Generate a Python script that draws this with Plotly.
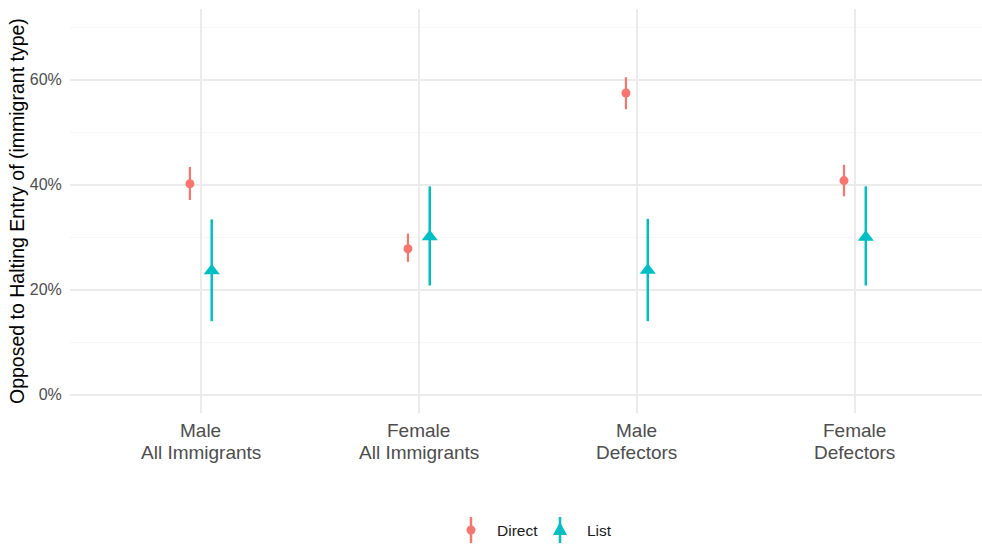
import plotly.graph_objects as go

categories = ["Male<br>All Immigrants", "Female<br>All Immigrants", "Male<br>Defectors", "Female<br>Defectors"]
direct_est = [40.2, 27.8, 57.5, 40.8]
direct_lo = [37.1, 25.3, 54.4, 37.8]
direct_hi = [43.4, 30.7, 60.5, 43.8]
list_est = [23.6, 30.1, 23.7, 30.0]
list_lo = [14.0, 20.8, 14.0, 20.8]
list_hi = [33.4, 39.7, 33.5, 39.7]
y_ticks = [0, 20, 40, 60]
y_tick_labels = ["0%", "20%", "40%", "60%"]

RED = "#F8766D"
BLUE = "#00BFC4"
dodge = 0.05
W, H = 982, 545
L, R, T, B = 70, 0, 9, 132

idx = list(range(len(categories)))

fig = go.Figure()
fig.add_trace(go.Scatter(
    x=[i - dodge for i in idx], y=direct_est, mode="markers", name="Direct",
    marker=dict(symbol="circle", size=9, color=RED),
    error_y=dict(type="data", symmetric=False,
                 array=[h - e for h, e in zip(direct_hi, direct_est)],
                 arrayminus=[e - l for e, l in zip(direct_est, direct_lo)],
                 color=RED, thickness=2.2, width=0),
    showlegend=False))
fig.add_trace(go.Scatter(
    x=[i + dodge for i in idx], y=list_est, mode="markers", name="List",
    marker=dict(symbol="triangle-up", size=14, color=BLUE),
    error_y=dict(type="data", symmetric=False,
                 array=[h - e for h, e in zip(list_hi, list_est)],
                 arrayminus=[e - l for e, l in zip(list_est, list_lo)],
                 color=BLUE, thickness=2.5, width=0),
    showlegend=False))

pw = W - L - R
ph = H - T - B
def px(x):
    return (x - L) / pw
def py(y):
    return (H - B - y) / ph

shapes = []
annotations = []
# custom legend (pointrange glyphs)
ly = 530
for cx, col, kind, label, tx in [(471, RED, "circle", "Direct", 495), (560, BLUE, "tri", "List", 585)]:
    shapes.append(dict(type="line", xref="paper", yref="paper", x0=px(cx), x1=px(cx),
                       y0=py(ly - 13), y1=py(ly + 13), line=dict(color=col, width=2.5)))
    if kind == "circle":
        shapes.append(dict(type="circle", xref="paper", yref="paper",
                           x0=px(cx - 4.5), x1=px(cx + 4.5), y0=py(ly - 4.5), y1=py(ly + 4.5),
                           fillcolor=col, line=dict(width=0)))
    else:
        path = "M {} {} L {} {} L {} {} Z".format(px(cx - 7), py(ly + 5), px(cx + 7), py(ly + 5), px(cx), py(ly - 8))
        shapes.append(dict(type="path", xref="paper", yref="paper", path=path,
                           fillcolor=col, line=dict(width=0)))
    annotations.append(dict(x=px(tx), y=py(ly), xref="paper", yref="paper", text=label,
                            showarrow=False, xanchor="left", yanchor="middle",
                            font=dict(size=15.5, color="#1a1a1a")))

# category labels (two lines, tighter spacing like ggplot)
for i, cat in zip(idx, categories):
    line1, line2 = cat.split("<br>")
    for txt, yy in [(line1, 430), (line2, 452)]:
        annotations.append(dict(x=i, y=py(yy), xref="x", yref="paper", text=txt,
                                showarrow=False, xanchor="center", yanchor="middle",
                                font=dict(size=19, color="#4D4D4D")))

annotations.append(dict(x=px(17), y=0.5, xref="paper", yref="paper",
                        text="Opposed to Halting Entry of (immigrant type)", textangle=-90,
                        showarrow=False, xanchor="center", yanchor="middle",
                        font=dict(size=19.5, color="#000000")))

fig.update_layout(
    width=W, height=H,
    margin=dict(l=L, r=R, t=T, b=B, autoexpand=False),
    paper_bgcolor="white", plot_bgcolor="white",
    font=dict(family="Liberation Sans, Arial, sans-serif"),
    shapes=shapes, annotations=annotations,
    showlegend=False,
)
fig.update_xaxes(
    range=[-0.6, 3.583], tickmode="array", tickvals=idx, showticklabels=False,
    showgrid=True, gridcolor="#EBEBEB", gridwidth=1.6, zeroline=False, showline=False,
)
fig.update_yaxes(
    range=[-3.5, 73.5], tickmode="array", tickvals=y_ticks, ticktext=y_tick_labels,
    showgrid=True, gridcolor="#EBEBEB", gridwidth=1.6, zeroline=False, showline=False,
    ticks="outside", ticklen=4, tickcolor="rgba(0,0,0,0)",
    tickfont=dict(size=16, color="#4D4D4D"),
    minor=dict(tickvals=[10, 30, 50, 70], showgrid=True, gridcolor="#F5F5F5", gridwidth=1),
)

fig.write_html("out.html", config={"displayModeBar": False},
               post_script="document.body.style.margin='0';document.body.style.overflow='hidden';")
